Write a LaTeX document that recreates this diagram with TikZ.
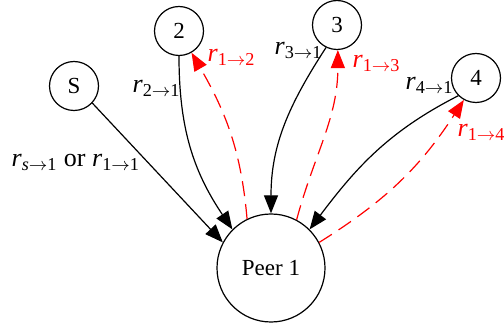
\documentclass[tikz,border=0pt]{standalone}
\usepackage{fontspec}
\setmainfont{Liberation Serif}
\usetikzlibrary{arrows.meta, positioning}
\newcommand{\rr}[2]{\textit{r}\textsubscript{#1$\rightarrow$#2}}

\begin{document}
\begin{tikzpicture}[x=0.5pt, y=0.5pt, >={Triangle[length=9pt, width=7pt]}, line width=0.6pt,
  peer/.style={draw, circle, inner sep=0pt, minimum size=24.5pt, font=\fontsize{11.5}{13}\selectfont},
  lbl/.style={anchor=base west, inner sep=0pt, font=\fontsize{13}{15}\selectfont},
  back/.style={red, dash pattern=on 7.5pt off 4pt}]
  \useasboundingbox (0,0) rectangle (504,-326);
  \node[peer, minimum size=54pt] (P1) at (271,-268) {Peer 1};
  \node[peer] (S) at (74,-86) {S};
  \node[peer] (N2) at (179,-31) {2};
  \node[peer] (N3) at (337,-25) {3};
  \node[peer] (N4) at (476,-78) {4};
  \draw[->] (S.-43) -- (P1.152);
  \draw[->] (N2.-90) to[out=-90, in=124] (P1.135);
  \draw[->] (N3.-116) to[out=-123, in=90] (P1.90);
  \draw[->] (N4.-135) to[out=-153, in=53] (P1.45);
  \draw[back, ->] (P1.116) to[out=95, in=-60] (N2.-60);
  \draw[back, ->] (P1.62) to[out=75, in=-90] (N3.-88);
  \draw[back, ->] (P1.28) to[out=32, in=-123] (N4.-119);
  \node[lbl] (lS) at (11,-167) {\rr{\textit{s}}{1} or \rr{1}{1}};
  \node[lbl] (l21) at (132,-93) {\rr{2}{1}};
  \node[lbl] (l31) at (274,-55) {\rr{3}{1}};
  \node[lbl] (l41) at (405,-90) {\rr{4}{1}};
  \node[lbl, red] (l12) at (207,-62) {\rr{1}{2}};
  \node[lbl, red] (l13) at (352,-68) {\rr{1}{3}};
  \node[lbl, red] (l14) at (457,-137) {\rr{1}{4}};
\end{tikzpicture}
\end{document}
